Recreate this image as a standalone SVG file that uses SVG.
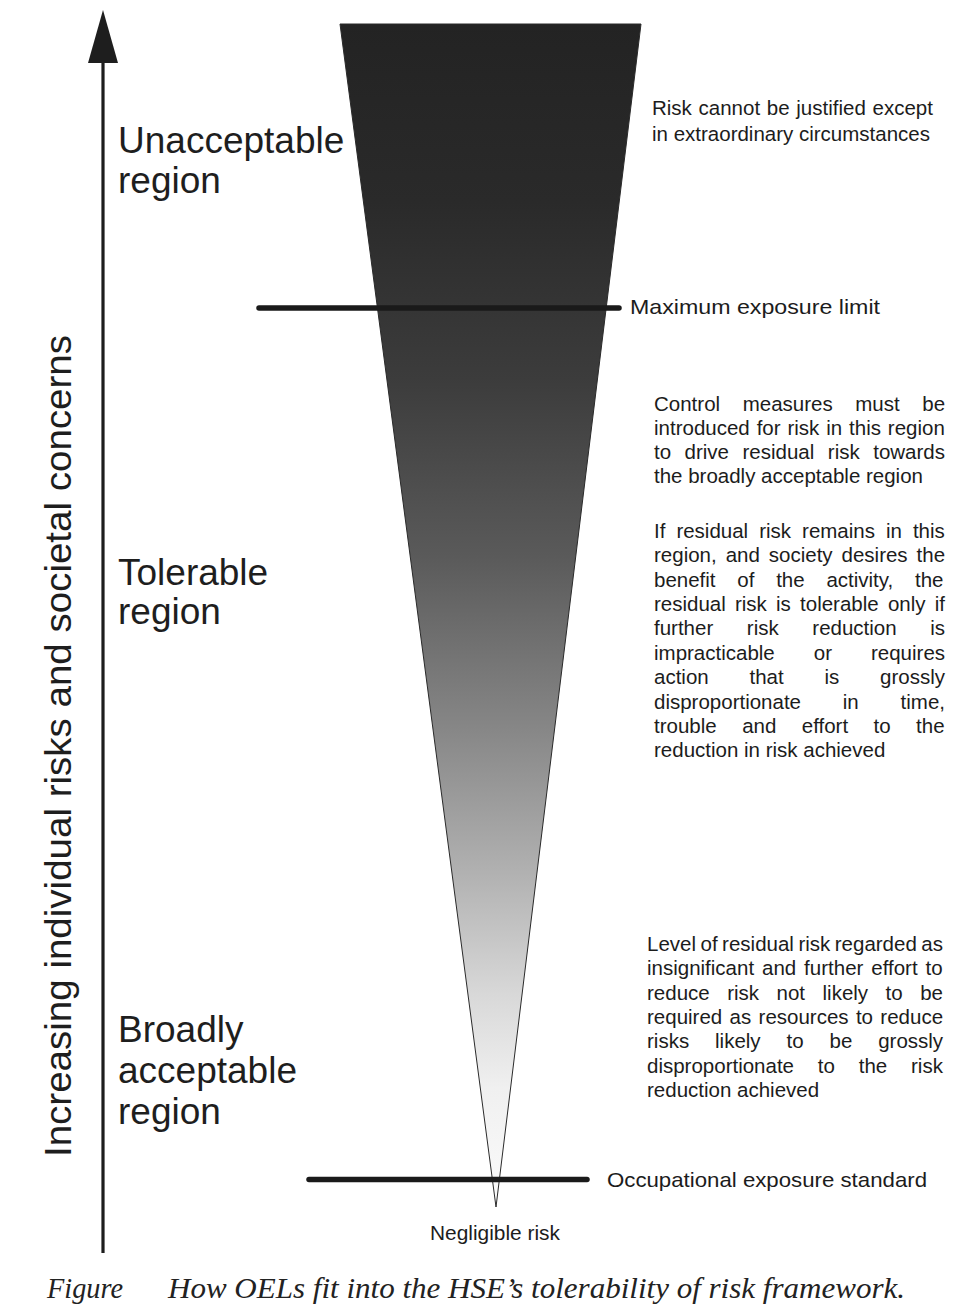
<svg xmlns="http://www.w3.org/2000/svg" width="967" height="1308" viewBox="0 0 967 1308">
<style>
.big{font-family:"Liberation Sans",Arial,sans-serif;font-size:37px;fill:#1e1e1e}
.p{font-family:"Liberation Sans",Arial,sans-serif;font-size:20.5px;fill:#1c1c1c}
.lbl{font-family:"Liberation Sans",Arial,sans-serif;font-size:21px;fill:#1c1c1c}
.axis{font-family:"Liberation Sans",Arial,sans-serif;font-size:37px;fill:#1e1e1e}
.cap{font-family:"Liberation Serif","Times New Roman",serif;font-style:italic;font-size:30px;fill:#222}
.bar{stroke:#1a1a1a;stroke-width:5.5;stroke-linecap:round;fill:none}
</style>
<defs>
<linearGradient id="riskGrad" gradientUnits="userSpaceOnUse" x1="0" y1="24" x2="0" y2="1207">
<stop offset="0" stop-color="#232323"/>
<stop offset="0.15" stop-color="#2a2a2a"/>
<stop offset="0.3" stop-color="#3c3c3c"/>
<stop offset="0.45" stop-color="#5a5a5a"/>
<stop offset="0.6" stop-color="#888888"/>
<stop offset="0.72" stop-color="#b2b2b2"/>
<stop offset="0.82" stop-color="#d8d8d8"/>
<stop offset="0.9" stop-color="#f0f0f0"/>
<stop offset="1" stop-color="#fbfbfb"/>
</linearGradient>
<marker id="arrowHead" markerUnits="userSpaceOnUse" markerWidth="53" markerHeight="30" viewBox="0 0 53 30" refX="1" refY="15" orient="auto">
<path d="M0,0 L53,15 L0,30 Z" fill="#1e1e1e"/>
</marker>
</defs>
<rect x="0" y="0" width="967" height="1308" fill="#ffffff"/>

<g id="risk-triangle">
<polygon points="340,24 641,24 496,1207" fill="url(#riskGrad)" stroke="#2a2a2a" stroke-width="1"/>
</g>

<g id="connectors">
<line x1="103" y1="1253" x2="103" y2="62" stroke="#1e1e1e" stroke-width="3.2" marker-end="url(#arrowHead)"/>
<line class="bar" x1="259" y1="308" x2="619" y2="308"/>
<line class="bar" x1="309" y1="1179.5" x2="587" y2="1179.5"/>
</g>

<g id="axis-label">
<text class="axis" transform="translate(71,1157) rotate(-90)" textLength="822" lengthAdjust="spacingAndGlyphs">Increasing individual risks and societal concerns</text>
</g>

<g id="unacceptable-region">
<text class="big" x="118" y="153">Unacceptable</text>
<text class="big" x="118" y="193">region</text>
</g>

<g id="tolerable-region">
<text class="big" x="118" y="585">Tolerable</text>
<text class="big" x="118" y="624">region</text>
</g>

<g id="broadly-acceptable-region">
<text class="big" x="118" y="1042">Broadly</text>
<text class="big" x="118" y="1083">acceptable</text>
<text class="big" x="118" y="1124">region</text>
</g>

<g id="unacceptable-note">
<text class="p" x="652" y="115" word-spacing="1">Risk cannot be justified except</text>
<text class="p" x="652" y="141">in extraordinary circumstances</text>
</g>

<g id="max-exposure-limit">
<text class="lbl" x="630" y="314" textLength="250" lengthAdjust="spacingAndGlyphs">Maximum exposure limit</text>
</g>

<g id="control-note">
<text class="p" x="654" y="411" word-spacing="16.9">Control measures must be</text>
<text class="p" x="654" y="435" word-spacing="1.2">introduced for risk in this region</text>
<text class="p" x="654" y="459" word-spacing="7.8">to drive residual risk towards</text>
<text class="p" x="654" y="483">the broadly acceptable region</text>
</g>

<g id="tolerable-note">
<text class="p" x="654" y="538" word-spacing="5.3">If residual risk remains in this</text>
<text class="p" x="654" y="562.4" word-spacing="3.25">region, and society desires the</text>
<text class="p" x="654" y="586.7" word-spacing="16.05">benefit of the activity, the</text>
<text class="p" x="654" y="611" word-spacing="3.5">residual risk is tolerable only if</text>
<text class="p" x="654" y="635.4" word-spacing="27.9">further risk reduction is</text>
<text class="p" x="654" y="659.8" word-spacing="33.3">impracticable or requires</text>
<text class="p" x="654" y="684.1" word-spacing="35.1">action that is grossly</text>
<text class="p" x="654" y="708.5" word-spacing="36.1">disproportionate in time,</text>
<text class="p" x="654" y="732.8" word-spacing="19.75">trouble and effort to the</text>
<text class="p" x="654" y="757.2">reduction in risk achieved</text>
</g>

<g id="broadly-acceptable-note">
<text class="p" x="647" y="951" word-spacing="-1.2">Level of residual risk regarded as</text>
<text class="p" x="647" y="975.3" word-spacing="2.2">insignificant and further effort to</text>
<text class="p" x="647" y="999.6" word-spacing="11.8">reduce risk not likely to be</text>
<text class="p" x="647" y="1024" word-spacing="1.65">required as resources to reduce</text>
<text class="p" x="647" y="1048.3" word-spacing="20.2">risks likely to be grossly</text>
<text class="p" x="647" y="1072.6" word-spacing="18.1">disproportionate to the risk</text>
<text class="p" x="647" y="1097">reduction achieved</text>
</g>

<g id="occupational-exposure-standard">
<text class="lbl" x="607" y="1187" font-size="23" textLength="320" lengthAdjust="spacingAndGlyphs">Occupational exposure standard</text>
</g>

<g id="negligible-risk">
<text class="lbl" x="430" y="1240" textLength="130" lengthAdjust="spacingAndGlyphs">Negligible risk</text>
</g>

<g id="caption">
<text class="cap" x="47" y="1298" textLength="76" lengthAdjust="spacingAndGlyphs">Figure</text>
<text class="cap" x="168" y="1298" textLength="737" lengthAdjust="spacingAndGlyphs">How OELs fit into the HSE’s tolerability of risk framework.</text>
</g>
</svg>
